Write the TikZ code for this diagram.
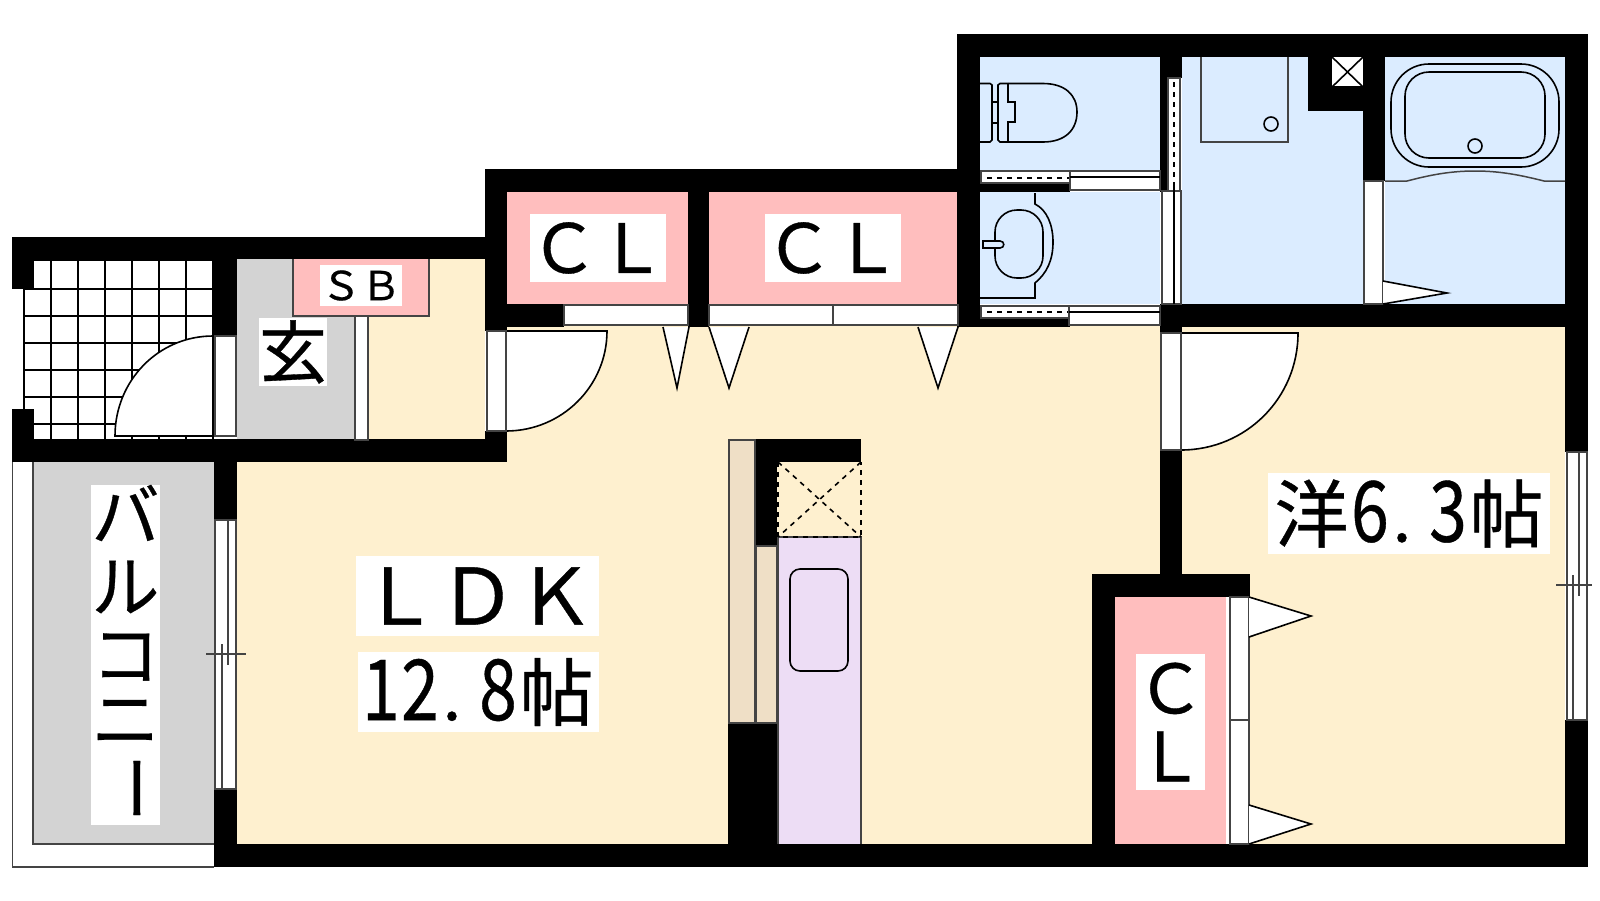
\documentclass[tikz,border=0pt]{standalone}
\usepackage{fontspec}
\usepackage{xcolor}
\usepackage{tikz}
\newfontfamily\jpfont[FakeBold=0.5]{Noto Sans CJK JP}
\definecolor{floorcream}{HTML}{FEF0CF}
\definecolor{closetpink}{HTML}{FFBEBE}
\definecolor{bathblue}{HTML}{DBECFF}
\definecolor{entrygrey}{HTML}{D3D3D3}
\definecolor{shelfbeige}{HTML}{EFDFC6}
\definecolor{kitchenlilac}{HTML}{EDDDF5}
\definecolor{framegrey}{HTML}{444444}
\newcommand{\tallnum}[1]{\makebox[39pt]{\scalebox{1}[1.24]{#1}}}
\newcommand{\halfdot}{\makebox[39pt][l]{\hspace{3pt}.}}
\newcommand{\widechar}[1]{\makebox[78pt]{\fontsize{74}{74}\selectfont #1}}
\begin{document}
\begin{tikzpicture}[x=1pt,y=-1pt]
	\tikzstyle{every node}+=[inner sep=0pt]
	\tikzstyle{wall}=[fill=black]
	\tikzstyle{frame}=[fill=white,draw=framegrey,line width=1.5pt]
	\tikzstyle{leaf}=[fill=white,draw=black,line width=1.6pt]
	\tikzstyle{fixture}=[draw=black,line width=1.6pt]
	\tikzstyle{thinline}=[draw=framegrey,line width=1.5pt]
	\tikzstyle{tile}=[draw=black,line width=2pt]
	\tikzstyle{dashline}=[draw=black,line width=1.6pt,dash pattern=on 5pt off 5pt]
	\tikzstyle{roomlabel}=[fill=white,text=black,font=\jpfont\fontsize{68}{68}\selectfont,align=center]
	\tikzstyle{kana}=[text=black,font=\jpfont\fontsize{68}{68}\selectfont]
	\useasboundingbox (0,0) rectangle (1600,900);
	% floors
	\fill [floorcream] (237,462) rectangle (1160,844);
	\fill [floorcream] (507,325) rectangle (1160,462);
	\fill [floorcream] (1182,327) rectangle (1565,844);
	\fill [floorcream] (368,259) rectangle (485,439);
	\fill [entrygrey] (237,259) rectangle (355,439);
	\fill [entrygrey] (33,462) rectangle (214,844);
	\fill [closetpink] (507,192) rectangle (688,304);
	\fill [closetpink] (709,192) rectangle (957,304);
	\fill [closetpink] (1115,597) rectangle (1226,844);
	\fill [bathblue] (980,57) rectangle (1160,170);
	\fill [bathblue] (980,192) rectangle (1160,304);
	\fill [bathblue] (1182,57) rectangle (1363,304);
	\fill [bathblue] (1385,57) rectangle (1565,304);
	% entrance tiles
	\draw [tile] (34,259.5) -- (213,259.5);
	\draw [tile] (23,288.5) -- (213,288.5);
	\draw [tile] (23,315.5) -- (213,315.5);
	\draw [tile] (23,342.5) -- (213,342.5);
	\draw [tile] (23,369.5) -- (213,369.5);
	\draw [tile] (23,396.5) -- (213,396.5);
	\draw [tile] (23,423.5) -- (213,423.5);
	\draw [tile] (23.5,289) -- (23.5,409);
	\draw [tile] (50.5,259) -- (50.5,439);
	\draw [tile] (77.5,259) -- (77.5,439);
	\draw [tile] (104.5,259) -- (104.5,439);
	\draw [tile] (131.5,259) -- (131.5,439);
	\draw [tile] (159,259) -- (159,439);
	\draw [tile] (186,259) -- (186,439);
	\draw [tile] (213,259) -- (213,439);
	% balcony outline
	\draw [thinline] (12.5,450) -- (12.5,867) -- (214,867);
	\draw [thinline] (33,462) -- (33,844) -- (214,844);
	% walls
	\fill [wall] (12,237) rectangle (507,259);
	\fill [wall] (12,237) rectangle (34,289);
	\fill [wall] (12,409) rectangle (34,462);
	\fill [wall] (12,439) rectangle (507,462);
	\fill [wall] (213,259) rectangle (237,336);
	\fill [wall] (214,462) rectangle (237,520);
	\fill [wall] (214,789) rectangle (237,867);
	\fill [wall] (214,844) rectangle (1588,867);
	\fill [wall] (485,169) rectangle (507,331);
	\fill [wall] (485,431) rectangle (507,462);
	\fill [wall] (485,169) rectangle (957,192);
	\fill [wall] (485,304) rectangle (564,327);
	\fill [wall] (688,192) rectangle (709,327);
	\fill [wall] (957,34) rectangle (980,327);
	\fill [wall] (957,34) rectangle (1588,57);
	\fill [wall] (1565,34) rectangle (1588,452);
	\fill [wall] (1565,720) rectangle (1588,867);
	\fill [wall] (1160,57) rectangle (1182,78);
	\fill [wall] (1160,78) rectangle (1168,192);
	\fill [wall] (1160,304) rectangle (1182,333);
	\fill [wall] (1160,304) rectangle (1565,327);
	\fill [wall] (980,183) rectangle (1070,192);
	\fill [wall] (980,318) rectangle (1070,327);
	\fill [wall] (1308,57) rectangle (1385,111);
	\fill [wall] (1363,57) rectangle (1385,181);
	\fill [wall] (1160,450) rectangle (1182,574);
	\fill [wall] (1092,574) rectangle (1250,597);
	\fill [wall] (1092,574) rectangle (1115,844);
	\fill [wall] (755,439) rectangle (861,462);
	\fill [wall] (755,439) rectangle (777,546);
	\fill [wall] (728,723) rectangle (777,844);
	% entrance door and step
	\draw [leaf] (213,336) .. controls (158,336) and (115,381) .. (115,436) -- (213,436) -- cycle;
	\draw [frame] (215,336) rectangle (236,436);
	\draw [frame] (355,316) rectangle (368,440);
	\fill [closetpink] (293,259) rectangle (429,316);
	\draw [thinline] (293,259) -- (293,316) -- (429,316) -- (429,259);
	% inner doors
	\draw [leaf] (506,331) -- (607,331) .. controls (607,386) and (562,431) .. (506,431) -- cycle;
	\draw [frame] (487,331) rectangle (506,431);
	\draw [leaf] (1181,333) -- (1298,333) .. controls (1298,398) and (1246,450) .. (1181,450) -- cycle;
	\draw [frame] (1161,333) rectangle (1181,450);
	% closet doors
	\draw [frame] (564,305) rectangle (688,325);
	\draw [frame] (709,305) rectangle (833,325);
	\draw [frame] (833,305) rectangle (958,325);
	\draw [leaf] (663,327) -- (677,388) -- (689,327);
	\draw [leaf] (709,327) -- (729,388) -- (749,327);
	\draw [leaf] (918,327) -- (938,388) -- (958,327);
	\fill [white] (1226,597) rectangle (1230,844);
	\draw [frame] (1230,597) rectangle (1249,720);
	\draw [frame] (1230,720) rectangle (1249,844);
	\draw [leaf] (1249,597) -- (1311,616) -- (1249,637);
	\draw [leaf] (1249,805) -- (1311,824) -- (1249,844);
	% windows
	\draw [frame] (215,520) rectangle (236,789);
	\draw [thinline] (228,520) -- (228,665);
	\draw [thinline] (222,644) -- (222,789);
	\draw [thinline] (206,654) -- (246,654);
	\draw [frame] (1567,452) rectangle (1587,720);
	\draw [thinline] (1579,452) -- (1579,596);
	\draw [thinline] (1573,575) -- (1573,720);
	\draw [thinline] (1556,585) -- (1592,585);
	% toilet and washroom sliding doors
	\draw [frame] (981,171) rectangle (1070,183);
	\draw [dashline] (987,178) -- (1070,178);
	\draw [frame] (1070,171) rectangle (1160,190);
	\draw [fixture] (1070,177) -- (1160,177);
	\draw [frame] (981,306) rectangle (1069,318);
	\draw [dashline] (987,312) -- (1069,312);
	\draw [frame] (1069,306) rectangle (1160,325);
	\draw [fixture] (1069,312) -- (1160,312);
	\draw [frame] (1168,78) rectangle (1180,191);
	\draw [dashline] (1174,82) -- (1174,191);
	\draw [frame] (1162,191) rectangle (1181,304);
	\draw [fixture] (1174,187) -- (1174,304);
	\draw [frame] (1364,181) rectangle (1383,304);
	\draw [leaf] (1383,281) -- (1447,293) -- (1383,304);
	% toilet
	\draw [fixture] (980,83.5) -- (990,83.5) -- (992,85) -- (992,140) -- (990,142) -- (980,142);
	\draw [fixture] (992,102) -- (998,102);
	\draw [fixture] (992,123) -- (998,123);
	\draw [fixture] (1008,83.5) -- (1000,83.5) -- (998,85) -- (998,140) -- (1000,142) -- (1008,142);
	\draw [fixture] (1008,83.5) -- (1008,102) -- (1015,102) -- (1015,122) -- (1008,122) -- (1008,142);
	\draw [fixture] (1008,83.5) -- (1043,83.5) .. controls (1065,83.5) and (1077,95) .. (1077,112) .. controls (1077,130) and (1065,142) .. (1043,142) -- (1008,142);
	% washbasin
	\draw [fixture] (1035,193) -- (1035,204) .. controls (1047,210) and (1053,225) .. (1053,242) .. controls (1053,260) and (1047,273) .. (1035,283) -- (1035,298) -- (980,298);
	\draw [fixture,rounded corners=22pt] (995,210) rectangle (1043,278);
	\draw [fixture,fill=bathblue] (983,241) -- (1000,241) .. controls (1005,241) and (1005,248) .. (1000,248) -- (983,248) -- cycle;
	% washing machine, duct and bath
	\draw [thinline] (1201,57) -- (1201,142) -- (1288,142) -- (1288,57);
	\draw [fixture] (1271,124) circle (7);
	\fill [white] (1332,57) rectangle (1363,87);
	\draw [fixture] (1332,57) -- (1363,87);
	\draw [fixture] (1363,57) -- (1332,87);
	\draw [fixture] (1332,87) -- (1363,87);
	\draw [fixture,rounded corners=38pt] (1391,64) rectangle (1559,167);
	\draw [fixture,rounded corners=24pt] (1405,72) rectangle (1545,158);
	\draw [fixture] (1475,146) circle (7);
	\draw [thinline] (1385,181) -- (1407,181) .. controls (1430,175) and (1450,171) .. (1475,171) .. controls (1500,171) and (1520,175) .. (1544,181) -- (1565,181);
	% kitchen
	\draw [fill=shelfbeige,draw=framegrey,line width=1.5pt] (729,440) rectangle (755,723);
	\draw [fill=shelfbeige,draw=framegrey,line width=1.5pt] (756,546) rectangle (777,723);
	\fill [kitchenlilac] (778,537) rectangle (861,844);
	\draw [thinline] (861,844) -- (861,537) -- (778,537) -- (778,844);
	\draw [dashline] (778,462) -- (778,537) -- (861,537) -- (861,462);
	\draw [dashline] (778,462) -- (861,537);
	\draw [dashline] (861,462) -- (778,537);
	\draw [fixture,rounded corners=10pt] (790,569) rectangle (848,671);
	% labels
	\node (ldklabel) at (477.5,596) [roomlabel,minimum width=243pt,minimum height=80pt] {\fontsize{78}{78}\selectfont ＬＤＫ};
	\node (ldkarea) at (478.5,692) [roomlabel,minimum width=241pt,minimum height=80pt] {\tallnum{1}\tallnum{2}\halfdot\tallnum{8}\widechar{帖}};
	\node (westernarea) at (1409,513.5) [roomlabel,minimum width=282pt,minimum height=81pt] {\widechar{洋}\tallnum{6}\halfdot\tallnum{3}\widechar{帖}};
	\node (entrylabel) at (293,352) [roomlabel,minimum width=68pt,minimum height=68pt] {玄};
	\node (shoebox) at (361,285.5) [roomlabel,minimum width=82pt,minimum height=41pt] {\fontsize{40}{40}\selectfont ＳＢ};
	\node (closetone) at (598,248) [roomlabel,minimum width=136pt,minimum height=68pt] {ＣＬ};
	\node (closettwo) at (833,248) [roomlabel,minimum width=136pt,minimum height=68pt] {ＣＬ};
	\node (closetthree) at (1170.5,722) [roomlabel,minimum width=69pt,minimum height=136pt] {Ｃ\\Ｌ};
	% balcony text, one character below the other
	\node (balconylabel) at (125.5,655) [fill=white,minimum width=69pt,minimum height=340pt] {};
	\node (balconyba) at (125.5,513) [kana] {バ};
	\node (balconyru) at (125.5,587) [kana] {ル};
	\node (balconyko) at (125.5,657) [kana] {コ};
	\node (balconyni) at (125.5,722) [kana] {ニ};
	\node (balconybar) at (125.5,788) [kana] {\rotatebox{-90}{ー}};
\end{tikzpicture}
\end{document}
